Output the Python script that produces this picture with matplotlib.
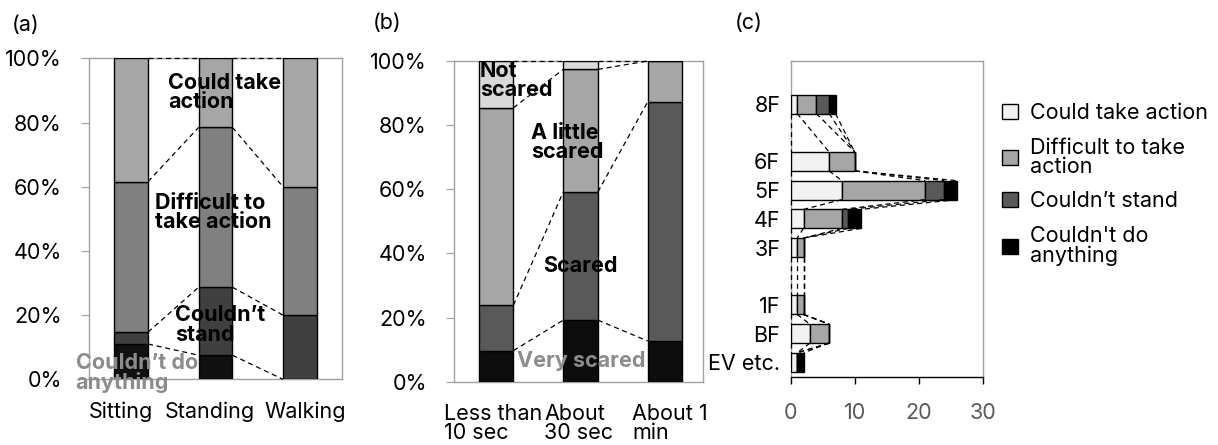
import numpy as np
import matplotlib
matplotlib.use("Agg")
import matplotlib.pyplot as plt
import matplotlib.transforms as mtransforms
from matplotlib.patches import Patch

plt.rcParams["font.family"] = ["Inter", "DejaVu Sans"]
plt.rcParams["font.size"] = 15.5

# (a) posture at the time of shaking, share of responses (%)
posture = ["Sitting", "Standing", "Walking"]
pos_nothing = [11.0, 7.5, 0.0]
pos_stand = [3.7, 21.2, 20.0]
pos_difficult = [46.9, 49.8, 40.0]
pos_could = [38.4, 21.5, 40.0]

# (b) duration of shaking vs. fear (%)
duration = ["Less than\n10 sec", "About\n30 sec", "About 1\nmin"]
dur_very = [9.7, 19.2, 12.7]
dur_scared = [14.2, 40.0, 74.6]
dur_little = [61.5, 38.2, 12.7]
dur_not = [14.6, 2.6, 0.0]

# (c) number of respondents per floor (blank rows have no answers)
floor_labels = ["EV etc.", "BF", "1F", "", "3F", "4F", "5F", "6F", "", "8F"]
floor_could = [1, 3, 1, np.nan, 1, 2, 8, 6, np.nan, 1]
floor_difficult = [0, 3, 1, np.nan, 1, 6, 13, 4, np.nan, 3]
floor_stand = [0, 0, 0, np.nan, 0, 1, 3, 0, np.nan, 2]
floor_nothing = [1, 0, 0, np.nan, 0, 2, 2, 0, np.nan, 1]

FRAME = "#a0a0a0"
DASH = dict(color="black", lw=0.9, ls=(0, (4, 3)), zorder=4, clip_on=False)


def style_frame(ax):
    for sp in ax.spines.values():
        sp.set_color(FRAME)
        sp.set_linewidth(1.0)


def nudge_xlabels(ax, shifts_pt):
    # spread crowded category labels sideways a little
    for lab, dx in zip(ax.get_xticklabels(), shifts_pt):
        off = mtransforms.ScaledTranslation(dx / 72, 0, ax.figure.dpi_scale_trans)
        lab.set_transform(lab.get_transform() + off)


def stacked_columns(ax, cats, series, colors, width):
    x = np.arange(len(cats))
    bottom = np.zeros(len(cats))
    tops = []
    for vals, col in zip(series, colors):
        vals = np.asarray(vals, float)
        ax.bar(x, vals, width, bottom=bottom, color=col, edgecolor="black",
               linewidth=1.0, zorder=3)
        bottom = bottom + vals
        tops.append(bottom.copy())
    # series lines joining the segment boundaries of neighbouring bars
    for lvl in tops:
        for i in range(len(cats) - 1):
            ax.plot([x[i] + width / 2, x[i + 1] - width / 2],
                    [lvl[i], lvl[i + 1]], **DASH)
    ax.set_xlim(-0.5, len(cats) - 0.5)
    ax.set_ylim(0, 100)
    ax.set_yticks(np.arange(0, 101, 20))
    ax.yaxis.set_major_formatter(plt.FuncFormatter(lambda v, _: f"{v:.0f}%"))
    ax.set_xticks(x)
    ax.set_xticklabels(cats, linespacing=0.95, multialignment="left")
    ax.tick_params(axis="x", length=0, pad=16)
    ax.tick_params(axis="y", length=5.5, color=FRAME, pad=14)
    style_frame(ax)


fig = plt.figure(figsize=(12.18, 4.45), dpi=100)

# ---- (a)
ax_a = fig.add_axes([0.0731, 0.1476, 0.2077, 0.7213])
stacked_columns(ax_a, posture, [pos_nothing, pos_stand, pos_difficult, pos_could],
                ["#111111", "#404040", "#808080", "#a6a6a6"], 0.40)
nudge_xlabels(ax_a, [-7.5, -4, 4])
bold = dict(fontweight="bold", fontsize=15.5, linespacing=0.95, va="center",
            ha="left", zorder=6, clip_on=False)
ax_a.text(0.44, 89.3, "Could take\naction", **bold)
ax_a.text(0.28, 52.0, "Difficult to\ntake action", **bold)
ax_a.text(0.52, 16.9, "Couldn\u2019t\nstand", **bold)
ax_a.text(-0.66, 2.0, "Couldn\u2019t do\nanything", color="#8c8c8c", **bold)
fig.text(0.010, 0.944, "(a)", va="center")

# ---- (b)
ax_b = fig.add_axes([0.3727, 0.1422, 0.2045, 0.7207])
stacked_columns(ax_b, duration, [dur_very, dur_scared, dur_little, dur_not],
                ["#0d0d0d", "#595959", "#a6a6a6", "#d9d9d9"], 0.41)
ax_b.set_xlim(-0.5, 2.45)
nudge_xlabels(ax_b, [-2, -1.5, 3.5])
ax_b.text(-0.19, 93.8, "Not\nscared", **bold)
ax_b.text(0.41, 74.7, "A little\nscared", **bold)
ax_b.text(0.556, 36.1, "Scared", **bold)
ax_b.text(0.25, 6.4, "Very scared", color="#8c8c8c", **bold)
fig.text(0.306, 0.948, "(b)", va="center")

# ---- (c)
ax_c = fig.add_axes([0.6492, 0.1535, 0.1576, 0.7094])
fl_series = [floor_could, floor_difficult, floor_stand, floor_nothing]
fl_colors = ["#f2f2f2", "#a6a6a6", "#595959", "#000000"]
fl_names = ["Could take action", "Difficult to take\naction",
            "Couldn\u2019t stand", "Couldn't do\nanything"]
y = np.arange(len(floor_labels))
h = 0.66
left = np.zeros(len(y))
edges = [left.copy()]
for vals, col in zip(fl_series, fl_colors):
    vals = np.asarray(vals, float)
    ax_c.barh(y, vals, h, left=left, color=col, edgecolor="black",
              linewidth=1.0, zorder=3)
    left = left + np.nan_to_num(vals)
    edges.append(left.copy())
filled = [i for i in y if not np.isnan(floor_could[i])]
for lo, hi in zip(filled[:-1], filled[1:]):
    for e in edges:
        ax_c.plot([e[hi], e[lo]], [hi - h / 2, lo + h / 2], **DASH)
ax_c.set_ylim(-0.5, 10.5)
ax_c.set_xlim(0, 30)
ax_c.set_xticks([0, 10, 20, 30])
ax_c.set_yticks(y)
ax_c.set_yticklabels(floor_labels)
ax_c.tick_params(axis="y", length=0, pad=7.5)
ax_c.tick_params(axis="x", length=5, width=1.0, color="black",
                 labelcolor="#595959", pad=14)
style_frame(ax_c)
ax_c.spines["bottom"].set_color("black")
fig.text(0.603, 0.948, "(c)", va="center")

handles = [Patch(facecolor=c, edgecolor="black", linewidth=1.0) for c in fl_colors]
leg = fig.legend(handles, fl_names, loc="upper left",
                 bbox_to_anchor=(0.816, 0.788), frameon=False, fontsize=15.5,
                 handlelength=0.7, handleheight=0.7, handletextpad=0.6,
                 labelspacing=0.68, borderaxespad=0)
for t in leg.get_texts():
    t.set_linespacing(0.95)

fig.savefig("out.png", dpi=100)
